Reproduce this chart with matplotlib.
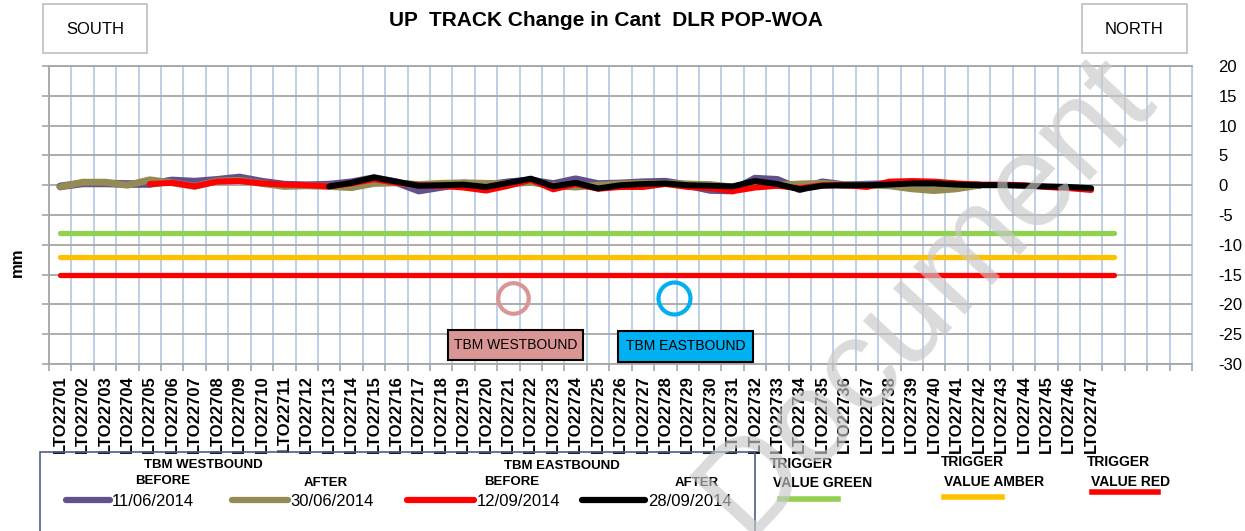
import numpy as np
import matplotlib
matplotlib.use('Agg')
from matplotlib import pyplot as plt
from matplotlib.patches import Rectangle
from matplotlib.lines import Line2D

W, H = 1245, 531

# ---- data ----
labels = ['LTO227%02d' % n for n in range(1, 48)]
n_slots = 51          # category axis has 4 empty slots after the last label
n_trigger = 48        # trigger series run one slot past the last label

before_wb = [-0.2, 0.3, 0.3, 0.2, 0.2, 0.8, 0.6, 0.9, 1.3, 0.6,
             0.1, 0.0, 0.1, 0.5, 1.2, 0.5, -0.9, -0.3, 0.3, 0.0,
             0.5, 0.8, 0.2, 1.0, 0.2, 0.3, 0.5, 0.6, 0.0, -0.8,
             -0.9, 1.1, 0.9, -0.7, 0.5, 0.0, 0.1, 0.2, 0.3, 0.4,
             0.0, 0.0]
after_wb = [-0.3, 0.5, 0.5, 0.0, 0.9, 0.4, -0.2, 0.7, 0.8, 0.3,
            -0.2, -0.1, -0.2, -0.4, 0.3, 0.4, 0.1, 0.3, 0.4, 0.3,
            0.2, 0.5, -0.1, -0.3, 0.0, 0.2, 0.3, 0.3, 0.2, 0.1,
            -0.3, 0.2, 0.0, 0.2, 0.3, 0.0, 0.0, -0.1, -0.6, -0.9,
            -0.6, 0.0]
before_eb = [0.2, 0.4, -0.2, 0.6, 0.7, 0.3, 0.1, 0.0, -0.2, 0.3,
             1.0, 0.4, 0.0, -0.1, -0.4, -0.9, -0.1, 0.9, -0.7, 0.2,
             -0.6, -0.3, -0.3, 0.2, -0.3, -0.5, -1.0, -0.4, -0.1, -0.5,
             0.0, 0.0, -0.3, 0.6, 0.7, 0.6, 0.3, 0.1, 0.1, 0.0,
             -0.3, -0.5, -0.8]
after_eb = [-0.2, 0.4, 1.3, 0.6, -0.1, 0.0, 0.1, -0.3, 0.4, 1.1,
            -0.2, 0.4, -0.55, 0.0, 0.2, 0.3, 0.0, -0.1, -0.2, 0.7,
            0.2, -0.7, -0.1, 0.0, 0.0, 0.1, 0.3, 0.3, 0.1, 0.0,
            0.0, -0.1, -0.2, -0.3, -0.5]

start_before_eb = labels.index('LTO22705')
start_after_eb = labels.index('LTO22713')

trigger_green = -8
trigger_amber = -12
trigger_red = -15

# TBM positions marked by circles (category position, mm)
wb_circle = (20.2, -19)
eb_circle = (27.4, -19)


def fx(px):
    return px / W


def fy(py):
    return 1 - py / H


plt.rcParams['font.family'] = ['Liberation Sans', 'DejaVu Sans']
plt.rcParams['axes.unicode_minus'] = False

fig = plt.figure(figsize=(W / 100, H / 100), dpi=100)
ax = fig.add_axes([fx(49), fy(364), (1192 - 49) / W, (364 - 66) / H])

ax.set_xlim(-0.5, n_slots - 0.5)
ax.set_ylim(-30, 20)
ax.set_yticks(range(-30, 21, 5))
ax.yaxis.grid(True, color='#A6A6A6', lw=1.3)
ax.set_xticks(np.arange(-0.5, n_slots, 1), minor=True)
ax.xaxis.grid(True, which='minor', color='#B9CDE5', lw=1.3)
ax.set_xticks(range(len(labels)))
ax.set_xticklabels(labels, rotation=90, fontsize=12, fontweight='bold')
ax.tick_params(axis='x', which='major', length=0, pad=8)
ax.tick_params(axis='x', which='minor', length=5, color='#A6A6A6', width=1.2)
ax.tick_params(axis='y', left=True, right=False, labelleft=False,
               labelright=True, length=5, color='#A6A6A6', width=1.2,
               labelsize=12, pad=14)
ax.set_axisbelow(True)
for s in ['left', 'bottom', 'top']:
    ax.spines[s].set_color('#A6A6A6')
    ax.spines[s].set_linewidth(1.3)
ax.spines['right'].set_color('#B9CDE5')

# triggers
tx = range(n_trigger)
ax.plot(tx, [trigger_green] * n_trigger, color='#92D050', lw=3.8, solid_capstyle='round')
ax.plot(tx, [trigger_amber] * n_trigger, color='#FFC000', lw=3.8, solid_capstyle='round')
ax.plot(tx, [trigger_red] * n_trigger, color='#FF0000', lw=3.8, solid_capstyle='round')

# survey lines
kw = dict(solid_capstyle='round', solid_joinstyle='round')
ax.plot(range(len(before_wb)), before_wb, color='#64508C', lw=5.5, **kw)
ax.plot(range(len(after_wb)), after_wb, color='#948A54', lw=5.0, **kw)
ax.plot(range(start_before_eb, start_before_eb + len(before_eb)), before_eb,
        color='#FF0000', lw=4.3, **kw)
ax.plot(range(start_after_eb, start_after_eb + len(after_eb)), after_eb,
        color='#000000', lw=4.3, **kw)

ax.plot(*wb_circle, marker='o', ms=22, mfc='none', mec='#D99694', mew=3)
ax.plot(*eb_circle, marker='o', ms=23, mfc='none', mec='#00B0F0', mew=3)


# TBM boxes
def box(x0, y0, x1, y1, face, edge, lw):
    fig.add_artist(Rectangle((fx(x0), fy(y1)), (x1 - x0) / W, (y1 - y0) / H,
                             transform=fig.transFigure, facecolor=face,
                             edgecolor=edge, lw=lw))


box(448, 330, 583, 360, '#D99694', 'black', 1.5)
fig.text(fx(515.5), fy(345), 'TBM WESTBOUND', ha='center', va='center', fontsize=10)
box(618, 331, 753, 362, '#00B0F0', 'black', 1.5)
fig.text(fx(685.5), fy(346.5), 'TBM EASTBOUND', ha='center', va='center', fontsize=10)

# header
box(43, 4, 147, 53, 'white', '#BFBFBF', 1.2)
fig.text(fx(95), fy(29), 'SOUTH', ha='center', va='center', fontsize=12)
box(1082, 4, 1187, 53, 'white', '#BFBFBF', 1.2)
fig.text(fx(1134), fy(29), 'NORTH', ha='center', va='center', fontsize=12)
fig.text(fx(606), fy(21), 'UP  TRACK Change in Cant  DLR POP-WOA',
         ha='center', va='center', fontsize=15, fontweight='bold')
fig.text(fx(17), fy(262), 'mm', rotation=90, ha='center', va='center',
         fontsize=12, fontweight='bold')

# legend
box(40, 452, 755, 545, 'none', '#4A5F8A', 1.2)
fig.text(fx(203), fy(465), 'TBM WESTBOUND', ha='center', va='center', fontsize=9.5, fontweight='bold')
fig.text(fx(562), fy(466), 'TBM EASTBOUND', ha='center', va='center', fontsize=9.5, fontweight='bold')
series_legend = [
    ('BEFORE', '11/06/2014', '#64508C', 163, 481, 66, 110, 112),
    ('AFTER', '30/06/2014', '#948A54', 326, 483, 232, 288, 290),
    ('BEFORE', '12/09/2014', '#FF0000', 512, 482, 407, 474, 477),
    ('AFTER', '28/09/2014', '#000000', 697, 483, 582, 645, 648),
]
for head, date, col, hx, hy, l0, l1, dx in series_legend:
    fig.text(fx(hx), fy(hy), head, ha='center', va='center', fontsize=9.5, fontweight='bold')
    fig.add_artist(Line2D([fx(l0), fx(l1)], [fy(500), fy(500)], color=col,
                          lw=4.5, solid_capstyle='round', transform=fig.transFigure))
    fig.text(fx(dx), fy(502), date, ha='left', va='center', fontsize=12)

trig_legend = [
    ('VALUE GREEN', '#92D050', 770, 464, 773, 483, 780, 838, 499),
    ('VALUE AMBER', '#FFC000', 941, 462, 944, 482, 944, 1002, 497),
    ('VALUE RED', '#FF0000', 1087, 462, 1091, 482, 1092, 1158, 492),
]
for name, col, tx0, ty0, vx, vy, l0, l1, ly in trig_legend:
    fig.text(fx(tx0), fy(ty0), 'TRIGGER', ha='left', va='center', fontsize=10, fontweight='bold')
    fig.text(fx(vx), fy(vy), name, ha='left', va='center', fontsize=10, fontweight='bold')
    fig.add_artist(Line2D([fx(l0), fx(l1)], [fy(ly), fy(ly)], color=col,
                          lw=4, transform=fig.transFigure))

# watermark
fig.text(fx(925), fy(295), 'Document', rotation=47, ha='center', va='center',
         fontsize=95, color='#C8C8C8', alpha=0.66, zorder=100)

fig.savefig('out.png', dpi=100)
